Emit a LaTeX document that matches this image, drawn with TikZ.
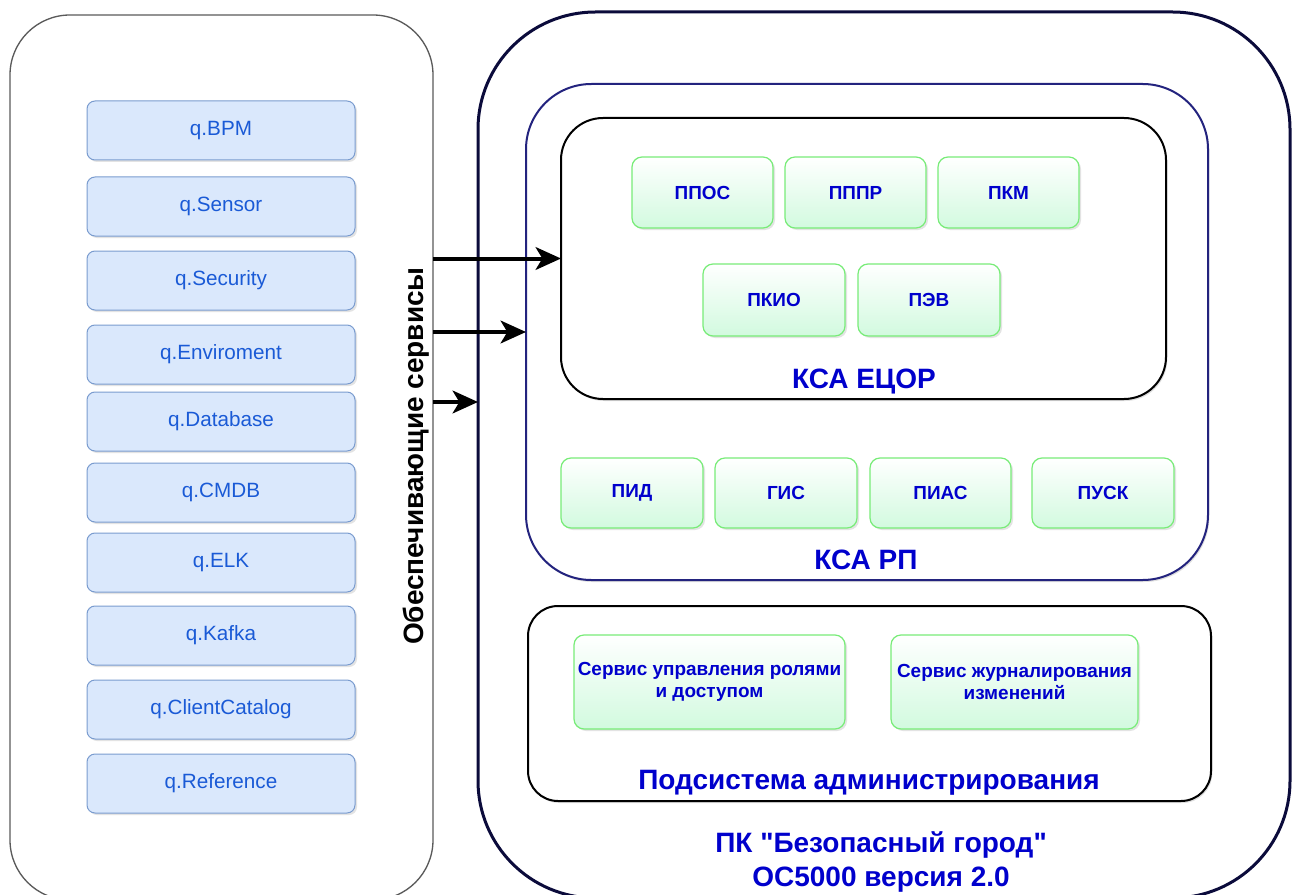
\documentclass[tikz,border=0pt]{standalone}
\usepackage{fontspec}
\setmainfont{Liberation Sans}[Ligatures=TeXOff]
\usetikzlibrary{arrows.meta,shadows}
\definecolor{qfill}{HTML}{DAE8FC}
\definecolor{qline}{HTML}{7A9CCF}
\definecolor{qtext}{HTML}{1A5AD6}
\definecolor{gline}{HTML}{78EC78}
\definecolor{gbot}{HTML}{D2FADF}
\definecolor{lbl}{HTML}{0000CC}
\definecolor{navyA}{HTML}{0B0B3B}
\definecolor{navyB}{HTML}{23237E}
\definecolor{frame}{HTML}{5A5A5A}
\newcommand\mkbox[7]{\node[#1, minimum width={(#5-#3)*0.75pt}, minimum height={(#6-#4)*0.75pt}] (#2) at ({(#3+#5)/2},{(#4+#6)/2}) {#7};}
\tikzset{
  every node/.style={inner sep=0pt, outer sep=0pt},
  softshadow/.style={drop shadow={opacity=0.25, shadow xshift=1pt, shadow yshift=-1.5pt}},
  cont/.style={draw, fill=white},
  leftcont/.style={cont, draw=frame, line width=1pt, rounded corners=45pt},
  outerc/.style={cont, draw=navyA, line width=2.25pt, rounded corners=88pt},
  rpc/.style={cont, draw=navyB, line width=1.5pt, rounded corners=49pt, softshadow},
  ecorc/.style={cont, draw=black, line width=1.5pt, rounded corners=31.5pt, softshadow},
  adminc/.style={cont, draw=black, line width=1.5pt, rounded corners=22.5pt, softshadow},
  qbox/.style={draw=qline, fill=qfill, line width=0.75pt, rounded corners=6pt, text=qtext,
    font=\fontsize{15.5}{18}\selectfont, drop shadow={opacity=0.22, shadow xshift=1.5pt, shadow yshift=-1.5pt}},
  gbox/.style={draw=gline, top color=white, bottom color=gbot, line width=0.9pt, rounded corners=7.5pt,
    text=lbl, font=\bfseries\fontsize{14.2}{16.5}\selectfont, align=center,
    drop shadow={opacity=0.22, shadow xshift=1.5pt, shadow yshift=-1.5pt}},
  biglbl/.style={text=lbl, font=\bfseries\fontsize{21}{25.5}\selectfont},
  arr/.style={line width=3pt, -{Stealth[length=19pt, width=17pt, inset=5pt]}}
}
\begin{document}
\begin{tikzpicture}[x=0.75pt, y=-0.75pt]
\useasboundingbox (0,0) rectangle (1292,895);
\clip (0,0) rectangle (1292,895);
% containers
\mkbox{leftcont}{leftbox}{10}{15}{433}{900}{}
\mkbox{outerc}{outer}{478}{12}{1290}{898}{}
\mkbox{rpc}{rp}{526}{84}{1208}{580}{}
\mkbox{ecorc}{ecor}{561}{118}{1166}{399}{}
\mkbox{adminc}{admin}{528}{606}{1211}{801}{}
% left services
\mkbox{qbox}{q1}{87}{101}{355}{160}{q.BPM}
\mkbox{qbox}{q2}{87}{177}{355}{236}{q.Sensor}
\mkbox{qbox}{q3}{87}{251}{355}{310}{q.Security}
\mkbox{qbox}{q4}{87}{325}{355}{384}{q.Enviroment}
\mkbox{qbox}{q5}{87}{392}{355}{451}{q.Database}
\mkbox{qbox}{q6}{87}{463}{355}{522}{q.CMDB}
\mkbox{qbox}{q7}{87}{533}{355}{592}{q.ELK}
\mkbox{qbox}{q8}{87}{606}{355}{665}{q.Kafka}
\mkbox{qbox}{q9}{87}{680}{355}{739}{q.ClientCatalog}
\mkbox{qbox}{q10}{87}{754}{355}{813}{q.Reference}
% ECOR
\mkbox{gbox}{ppos}{632}{157}{773}{228}{ППОС}
\mkbox{gbox}{pppr}{785}{157}{926}{228}{ПППР}
\mkbox{gbox}{pkm}{938}{157}{1079}{228}{ПКМ}
\mkbox{gbox}{pkio}{703}{264}{845}{336}{ПКИО}
\mkbox{gbox}{pev}{858}{264}{1000}{336}{ПЭВ}
% RP
\mkbox{gbox}{pid}{561}{458}{703}{528}{ПИД}
\mkbox{gbox}{gis}{715}{458}{857}{528}{ГИС}
\mkbox{gbox}{pias}{870}{458}{1011}{528}{ПИАС}
\mkbox{gbox}{pusk}{1032}{458}{1174}{528}{ПУСК}
% admin
\mkbox{gbox}{roles}{574}{635}{845}{729}{Сервис управления ролями\\и доступом}
\mkbox{gbox}{journal}{891}{635}{1138}{729}{Сервис журналирования\\изменений}
% labels
\node[biglbl, anchor=base] (ecorlbl) at (864,388) {КСА ЕЦОР};
\node[biglbl, anchor=base] (rplbl) at (866,569) {КСА РП};
\node[biglbl, anchor=base] (adminlbl) at (869,789) {Подсистема администрирования};
\node[biglbl, align=center, anchor=base] (title) at (881,886) {ПК "Безопасный город"\\ОС5000 версия 2.0};
\node[font=\bfseries\fontsize{21}{25}\selectfont, rotate=90, anchor=base] (svc) at (423,456) {Обеспечивающие сервисы};
% arrows
\coordinate (a3) at (478,402);
\draw[arr] (leftbox.east |- ecor.west) -- (ecor.west);
\draw[arr] (leftbox.east |- rp.west) -- (rp.west);
\draw[arr] (leftbox.east |- a3) -- (a3);
\end{tikzpicture}
\end{document}
